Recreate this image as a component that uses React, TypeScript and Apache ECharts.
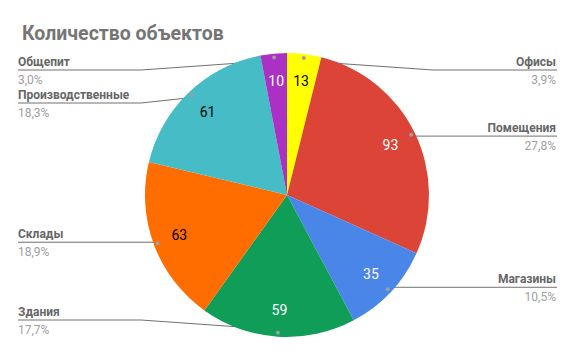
import React, { useEffect, useRef } from 'react';
import * as echarts from 'echarts';

const categories = ['Офисы', 'Помещения', 'Магазины', 'Здания', 'Склады', 'Производственные', 'Общепит'];
const values = [13, 93, 35, 59, 63, 61, 10];
const sliceColors = ['#ffff00', '#db4437', '#4a86e8', '#0f9d58', '#ff6d00', '#46bdc6', '#ab30c4'];
const valueTextColors = ['#000000', '#ffffff', '#ffffff', '#ffffff', '#000000', '#000000', '#ffffff'];

const TITLE = 'Количество объектов';

// layout constants
const W = 574;
const H = 355;
const CX = 287;
const CY = 195;
const R = 142;
const DOT_R = 135;
const TOP = 70;
const BOTTOM = 320;
const GAP = 33;
const LEFT_EDGE = 18;
const RIGHT_EDGE = 557;
const BEND = 146;

const total = values.reduce((a, b) => a + b, 0);

function computeLineYs(): number[] {
  let acc = 0;
  const mids = values.map((v) => {
    const m = ((acc + v / 2) / total) * 2 * Math.PI;
    acc += v;
    return m;
  });
  const dotY = (i: number) => CY - DOT_R * Math.cos(mids[i]);
  const ys: number[] = [];
  [true, false].forEach((right) => {
    const idx = mids.map((_, i) => i).filter((i) => (Math.sin(mids[i]) >= 0) === right);
    idx.sort((a, b) => dotY(a) - dotY(b));
    let prev = -Infinity;
    idx.forEach((i) => {
      let y = Math.min(Math.max(dotY(i), TOP), BOTTOM);
      y = Math.max(y, prev + GAP);
      ys[i] = y;
      prev = y;
    });
    let next = Infinity;
    for (let k = idx.length - 1; k >= 0; k--) {
      const i = idx[k];
      ys[i] = Math.min(ys[i], next - GAP);
      next = ys[i];
    }
  });
  return ys;
}

const lineYs = computeLineYs();

const FONT = 'Roboto, "Noto Sans", sans-serif';

export default function App() {
  const ref = useRef<HTMLDivElement>(null);

  useEffect(() => {
    document.body.style.margin = '0';
    if (!ref.current) return;
    const chart = echarts.init(ref.current, undefined, { renderer: 'svg' });

    const mainData = categories.map((name, i) => ({
      name,
      value: values[i],
      itemStyle: { color: sliceColors[i] },
    }));
    const valueData = categories.map((name, i) => ({
      name,
      value: values[i],
      label: { color: valueTextColors[i] },
    }));
    const plainData = categories.map((name, i) => ({ name, value: values[i] }));

    const transparent = { color: 'rgba(0,0,0,0)', borderWidth: 0 };

    chart.setOption({
      animation: false,
      backgroundColor: '#ffffff',
      title: {
        text: TITLE,
        left: 17,
        top: 18,
        textStyle: { fontFamily: FONT, fontSize: 19.5, fontWeight: 'bold', color: '#757575' },
      },
      series: [
        {
          type: 'pie',
          center: [CX, CY],
          radius: [0, R],
          startAngle: 90,
          clockwise: true,
          avoidLabelOverlap: false,
          silent: true,
          label: { show: false },
          labelLine: { show: false },
          itemStyle: { borderWidth: 0 },
          emphasis: { disabled: true },
          data: mainData,
        },
        {
          type: 'pie',
          center: [CX, CY],
          radius: [100, 124],
          startAngle: 90,
          clockwise: true,
          avoidLabelOverlap: false,
          silent: true,
          itemStyle: transparent,
          emphasis: { disabled: true },
          label: {
            show: true,
            position: 'inside',
            formatter: '{c}',
            fontFamily: FONT,
            fontSize: 14,
          },
          labelLine: { show: false },
          data: valueData,
        },
        {
          type: 'pie',
          center: [CX, CY],
          radius: [DOT_R - 6, DOT_R + 6],
          startAngle: 90,
          clockwise: true,
          avoidLabelOverlap: false,
          silent: true,
          itemStyle: transparent,
          emphasis: { disabled: true },
          label: {
            show: true,
            position: 'inside',
            formatter: '{d| }',
            rich: {
              d: { width: 4, height: 4, borderRadius: 2, backgroundColor: '#9e9e9e', fontSize: 1 },
            },
          },
          labelLine: { show: false },
          data: plainData,
        },
        {
          type: 'pie',
          center: [CX, CY],
          radius: [0, DOT_R],
          startAngle: 90,
          clockwise: true,
          avoidLabelOverlap: false,
          silent: true,
          itemStyle: transparent,
          emphasis: { disabled: true },
          label: {
            show: true,
            position: 'outside',
            formatter: (p: any) =>
              `{n|${p.name}}\n{p|${((p.value / total) * 100).toFixed(1).replace('.', ',')}%}`,
            rich: {
              n: { fontFamily: FONT, fontSize: 12, fontWeight: 'bold', color: '#666666', lineHeight: 18.5 },
              p: { fontFamily: FONT, fontSize: 12, color: '#9e9e9e', lineHeight: 18.5 },
            },
          },
          labelLine: {
            show: true,
            length: 10,
            length2: 10,
            lineStyle: { color: '#707070', width: 1 },
          },
          labelLayout: (params: any) => {
            const i = params.dataIndex;
            const pts = params.labelLinePoints;
            const start = pts && pts[0] ? pts[0] : [CX, CY];
            const right = start[0] >= CX;
            const y = lineYs[i];
            return {
              x: right ? RIGHT_EDGE - 1 : LEFT_EDGE,
              y: y + 0.75,
              align: right ? 'right' : 'left',
              verticalAlign: 'middle',
              labelLinePoints: [
                [start[0], start[1]],
                [right ? CX + BEND : CX - BEND, y],
                [right ? RIGHT_EDGE : LEFT_EDGE, y],
              ],
            };
          },
          data: plainData,
        },
      ],
    });

    return () => {
      chart.dispose();
    };
  }, []);

  return <div ref={ref} style={{ width: W, height: H, position: 'absolute', left: 0, top: 0 }} />;
}
